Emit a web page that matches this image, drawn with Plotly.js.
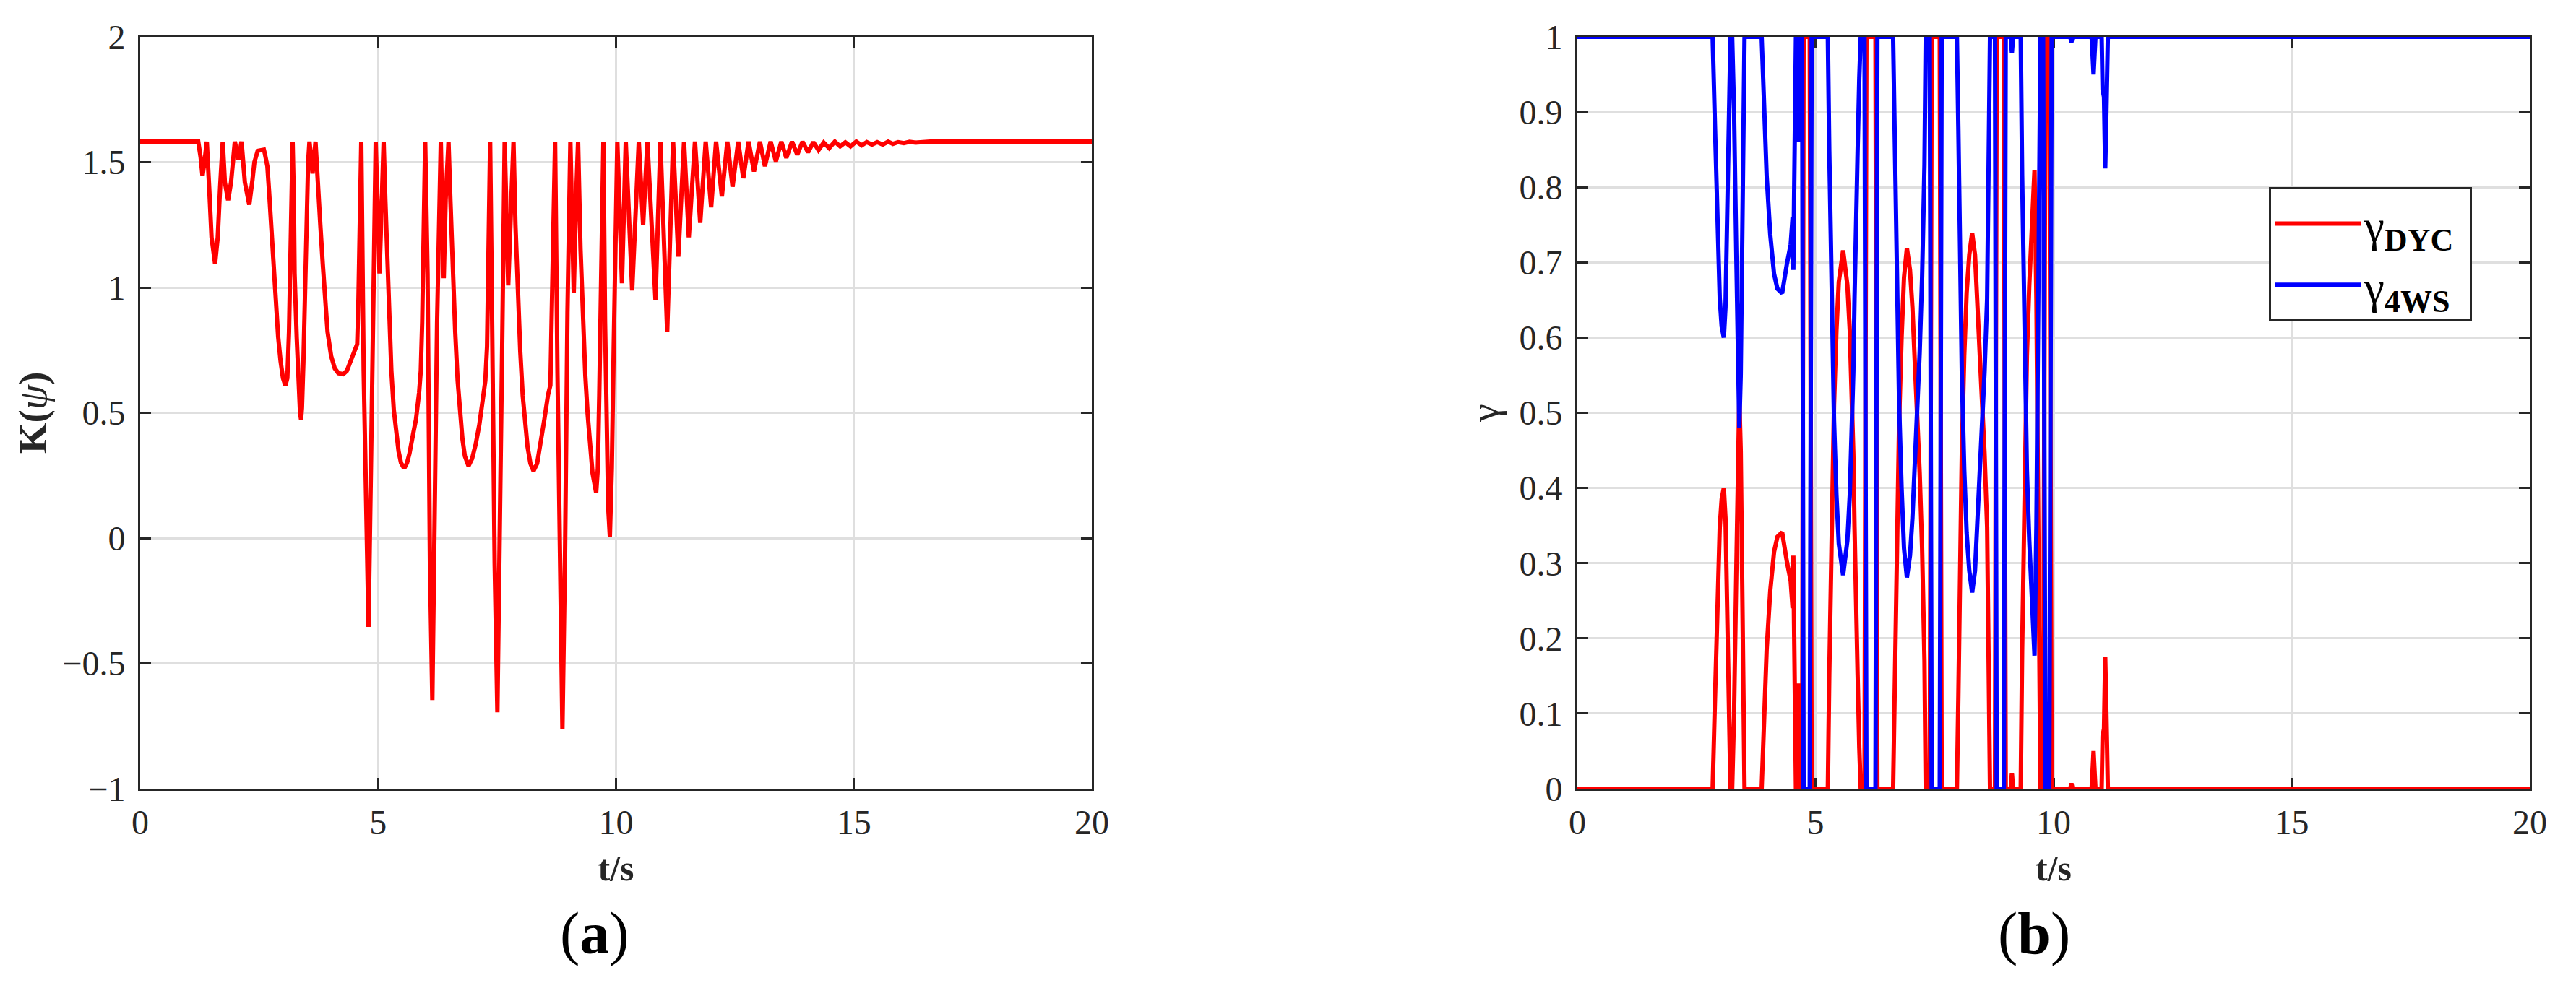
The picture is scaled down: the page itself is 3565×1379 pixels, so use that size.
<!DOCTYPE html>
<html>
<head>
<meta charset="utf-8">
<script src="https://cdn.plot.ly/plotly-3.0.1.min.js"></script>
<style>html,body{margin:0;padding:0;background:#fff;}#chart{width:3565px;height:1379px;}</style>
</head>
<body>
<div id="chart"></div>
<script>
// ---------- Data (a): K(psi) vs time ----------
const tK = [0, 1.22, 1.27, 1.31, 1.35, 1.40, 1.45, 1.50, 1.574, 1.63, 1.68, 1.735, 1.78, 1.848, 1.91, 1.99, 2.065, 2.13, 2.20, 2.293,
  2.36, 2.40, 2.47, 2.60, 2.622, 2.673, 2.708, 2.748, 2.799, 2.85, 2.90, 2.951, 3.001, 3.052, 3.093, 3.128, 3.154, 3.179, 3.204, 3.23,
  3.245, 3.29, 3.33, 3.36, 3.381, 3.40, 3.43, 3.457, 3.49, 3.53, 3.558, 3.624, 3.685, 3.735, 3.786, 3.837, 3.887, 3.938, 4.014, 4.09,
  4.166, 4.267, 4.343, 4.419, 4.495, 4.561, 4.586, 4.606, 4.647, 4.697, 4.748, 4.799, 4.85, 4.874, 4.925, 4.95, 5.03, 5.08, 5.117, 5.153,
  5.204, 5.239, 5.279, 5.33, 5.381, 5.431, 5.482, 5.548, 5.608, 5.659, 5.735, 5.796, 5.862, 5.897, 5.927, 5.963, 5.99, 6.04, 6.09, 6.14,
  6.19, 6.24, 6.318, 6.38, 6.42, 6.48, 6.52, 6.571, 6.621, 6.672, 6.723, 6.773, 6.824, 6.90, 6.976, 7.052, 7.128, 7.204, 7.254, 7.29,
  7.32, 7.355, 7.40, 7.45, 7.507, 7.56, 7.61, 7.66, 7.735, 7.80, 7.846, 7.887, 7.938, 7.988, 8.039, 8.09, 8.14, 8.201, 8.267, 8.343,
  8.419, 8.494, 8.57, 8.621, 8.646, 8.672, 8.72, 8.77, 8.82, 8.874, 8.93, 8.98, 9.041, 9.112, 9.16, 9.203, 9.254, 9.304, 9.355, 9.405,
  9.456, 9.507, 9.583, 9.618, 9.648, 9.669, 9.70, 9.735, 9.77, 9.80, 9.836, 9.871, 9.912, 9.952, 9.988, 10.028, 10.125, 10.205, 10.34, 10.479,
  10.57, 10.66, 10.83, 10.934, 11.076, 11.20, 11.31, 11.43, 11.53, 11.66, 11.77, 11.885, 12.0, 12.103, 12.225, 12.34, 12.45, 12.569, 12.675, 12.787,
  12.90, 13.025, 13.13, 13.25, 13.36, 13.475, 13.58, 13.70, 13.81, 13.92, 14.037, 14.148, 14.255, 14.366, 14.48, 14.60, 14.71, 14.82, 14.93, 15.05,
  15.165, 15.27, 15.38, 15.49, 15.605, 15.72, 15.82, 15.93, 16.05, 16.17, 16.30, 16.60, 20];
const kPsi = [1.582, 1.582, 1.52, 1.445, 1.50, 1.582, 1.40, 1.20, 1.095, 1.20, 1.40, 1.582, 1.42, 1.348, 1.42, 1.582, 1.51, 1.582, 1.42, 1.33,
  1.43, 1.50, 1.545, 1.55, 1.533, 1.484, 1.387, 1.25, 1.095, 0.94, 0.803, 0.706, 0.638, 0.609, 0.638, 0.823, 1.154, 1.446, 1.582, 1.348,
  1.056, 0.80, 0.60, 0.50, 0.473, 0.52, 0.70, 0.96, 1.25, 1.50, 1.582, 1.455, 1.582, 1.446, 1.25, 1.095, 0.94, 0.823, 0.726, 0.677,
  0.658, 0.654, 0.667, 0.706, 0.745, 0.774, 0.94, 1.25, 1.582, 0.667, 0.083, -0.354, 0.28, 0.667, 1.25, 1.582, 1.056, 1.35, 1.582, 1.348,
  1.056, 0.862, 0.667, 0.512, 0.414, 0.346, 0.30, 0.278, 0.30, 0.337, 0.414, 0.473, 0.58, 0.667, 0.862, 1.25, 1.582, 1.056, -0.11, -0.646,
  0.18, 0.86, 1.582, 1.037, 1.35, 1.582, 1.348, 1.056, 0.823, 0.628, 0.492, 0.395, 0.327, 0.288, 0.317, 0.375, 0.453, 0.55, 0.628, 0.765,
  1.154, 1.582, 0.80, -0.10, -0.695, -0.05, 0.80, 1.582, 1.008, 1.35, 1.582, 1.25, 0.96, 0.745, 0.57, 0.453, 0.366, 0.298, 0.268, 0.298,
  0.375, 0.473, 0.57, 0.61, 0.862, 1.154, 1.582, 0.66, -0.10, -0.763, -0.05, 0.90, 1.582, 0.979, 1.35, 1.582, 1.154, 0.862, 0.648, 0.492,
  0.356, 0.259, 0.181, 0.278, 0.57, 0.862, 1.25, 1.582, 0.862, 0.375, 0.122, 0.006, 0.278, 0.765, 1.25, 1.582, 1.017, 1.582, 0.988, 1.582,
  1.25, 1.582, 0.95, 1.582, 0.823, 1.582, 1.123, 1.582, 1.20, 1.582, 1.258, 1.582, 1.32, 1.582, 1.363, 1.582, 1.402, 1.582, 1.436, 1.582,
  1.4625, 1.582, 1.484, 1.582, 1.503, 1.582, 1.517, 1.582, 1.53, 1.582, 1.539, 1.58, 1.548, 1.578, 1.556, 1.582, 1.563, 1.579, 1.563, 1.582,
  1.567, 1.58, 1.57, 1.58, 1.57, 1.582, 1.573, 1.58, 1.576, 1.581, 1.578, 1.582, 1.582];

// ---------- Data (b): gamma weights vs time ----------
const tG = [0, 2.84, 2.89, 2.94, 2.99, 3.03, 3.075, 3.11, 3.14, 3.19, 3.215, 3.25, 3.29, 3.34, 3.37, 3.40, 3.43, 3.445, 3.47, 3.49,
  3.51, 3.87, 3.925, 3.975, 4.05, 4.13, 4.20, 4.30, 4.40, 4.48, 4.52, 4.535, 4.55, 4.57, 4.59, 4.63, 4.655, 4.68, 4.72, 4.75,
  4.88, 4.92, 5.26, 5.29, 5.315, 5.34, 5.365, 5.39, 5.44, 5.49, 5.58, 5.67, 5.72, 5.77, 5.795, 5.82, 5.845, 5.885, 5.92, 5.95,
  6.03, 6.07, 6.26, 6.30, 6.63, 6.656, 6.682, 6.707, 6.732, 6.757, 6.808, 6.859, 6.92, 6.985, 7.036, 7.087, 7.138, 7.188, 7.239, 7.289,
  7.315, 7.40, 7.44, 7.61, 7.65, 7.97, 8.0, 8.023, 8.073, 8.124, 8.175, 8.23, 8.29, 8.35, 8.38, 8.43, 8.48, 8.55, 8.605, 8.63,
  8.665, 8.77, 8.805, 8.955, 8.995, 9.10, 9.125, 9.15, 9.31, 9.34, 9.39, 9.44, 9.49, 9.54, 9.60, 9.64, 9.68, 9.705, 9.725, 9.78,
  9.83, 9.91, 9.96, 10.35, 10.375, 10.40, 10.80, 10.84, 10.88, 11.01, 11.03, 11.06, 11.085, 11.11, 11.14, 20];
const gammaDYC = [0, 0, 0.12, 0.25, 0.348, 0.385, 0.40, 0.36, 0.25, 0.055, 0, 0, 0.10, 0.30, 0.42, 0.52, 0.45, 0.35, 0.20, 0.05,
  0, 0, 0.087, 0.185, 0.263, 0.315, 0.335, 0.341, 0.302, 0.276, 0.24, 0.31, 0.22, 0.12, 0, 0, 0.14, 0, 0, 1,
  1, 0, 0, 0.152, 0.25, 0.348, 0.446, 0.511, 0.609, 0.674, 0.716, 0.67, 0.61, 0.51, 0.446, 0.348, 0.25, 0.152, 0.055, 0,
  0, 1, 1, 0, 0, 0.10, 0.20, 0.30, 0.40, 0.49, 0.60, 0.68, 0.719, 0.69, 0.64, 0.57, 0.50, 0.42, 0.32, 0.17,
  0, 0, 1, 1, 0, 0, 0.12, 0.25, 0.446, 0.576, 0.66, 0.71, 0.739, 0.71, 0.674, 0.595, 0.543, 0.446, 0.348, 0.22,
  0, 0, 1, 1, 0, 0, 0.021, 0, 0, 0.185, 0.38, 0.576, 0.67, 0.73, 0.823, 0.65, 0.40, 0.15, 0, 0,
  1, 1, 0, 0, 0.007, 0, 0, 0.05, 0, 0, 0.07, 0.08, 0.175, 0.10, 0, 0];
const gamma4WS = [1, 1, 0.88, 0.75, 0.652, 0.615, 0.60, 0.64, 0.75, 0.945, 1, 1, 0.90, 0.70, 0.58, 0.48, 0.55, 0.65, 0.80, 0.95,
  1, 1, 0.913, 0.815, 0.737, 0.685, 0.665, 0.659, 0.698, 0.724, 0.76, 0.69, 0.78, 0.88, 1, 1, 0.86, 1, 1, 0,
  0, 1, 1, 0.848, 0.75, 0.652, 0.554, 0.489, 0.391, 0.326, 0.284, 0.33, 0.39, 0.49, 0.554, 0.652, 0.75, 0.848, 0.945, 1,
  1, 0, 0, 1, 1, 0.90, 0.80, 0.70, 0.60, 0.51, 0.40, 0.32, 0.281, 0.31, 0.36, 0.43, 0.50, 0.58, 0.68, 0.83,
  1, 1, 0, 0, 1, 1, 0.88, 0.75, 0.554, 0.424, 0.34, 0.29, 0.261, 0.29, 0.326, 0.405, 0.457, 0.554, 0.652, 0.78,
  1, 1, 0, 0, 1, 1, 0.979, 1, 1, 0.815, 0.62, 0.424, 0.33, 0.27, 0.177, 0.35, 0.60, 0.85, 1, 1,
  0, 0, 1, 1, 0.993, 1, 1, 0.95, 1, 1, 0.93, 0.92, 0.825, 0.90, 1, 1];

// ---------- Labels ----------
const xTitle = '<b>t/s</b>';
const yTitleA = '<b>K(</b><i>ψ</i><b>)</b>';
const yTitleB = 'γ';
const legendNames = ['γ<sub><b>DYC</b></sub>\u00A0', 'γ<sub><b>4WS</b></sub>\u00A0'];
const panelLabels = ['(<b>a</b>)', '(<b>b</b>)'];

// ---------- Layout geometry ----------
const W = 3565, H = 1379;
const FONT = 'Liberation Serif, Times New Roman, serif';
const AX = '#262626';

function axisBase(extra) {
  return Object.assign({
    showline: true, linecolor: AX, linewidth: 3, mirror: 'ticks',
    ticks: 'inside', ticklen: 15, tickwidth: 3, tickcolor: AX,
    showgrid: true, gridcolor: '#dfdfdf', gridwidth: 3, zeroline: false,
    layer: 'below traces',
    tickfont: {family: FONT, size: 48, color: AX},
    fixedrange: true
  }, extra);
}

const yDom = [(H - 1092) / H, (H - 51) / H];

const traces = [
  {x: tK, y: kPsi, type: 'scatter', mode: 'lines', xaxis: 'x', yaxis: 'y',
   line: {color: '#ff0000', width: 6}, showlegend: false, hoverinfo: 'skip'},
  {x: tG, y: gammaDYC, type: 'scatter', mode: 'lines', xaxis: 'x2', yaxis: 'y2',
   name: legendNames[0], line: {color: '#ff0000', width: 6}, hoverinfo: 'skip'},
  {x: tG, y: gamma4WS, type: 'scatter', mode: 'lines', xaxis: 'x2', yaxis: 'y2',
   name: legendNames[1], line: {color: '#0000ff', width: 6}, hoverinfo: 'skip'}
];

const layout = {
  width: W, height: H,
  margin: {l: 0, r: 0, t: 0, b: 0},
  paper_bgcolor: '#ffffff', plot_bgcolor: '#ffffff',
  showlegend: true,
  xaxis: axisBase({domain: [194 / W, 1511 / W], anchor: 'y', range: [0, 20], dtick: 5, tick0: 0,
    ticklabelstandoff: 2,
    title: {text: xTitle, font: {family: FONT, size: 50, color: AX}, standoff: 21}}),
  yaxis: axisBase({domain: yDom, anchor: 'x', range: [-1, 2], dtick: 0.5, tick0: 0,
    ticklabelstandoff: 8,
    title: {text: yTitleA, font: {family: FONT, size: 55, color: AX}, standoff: 5}}),
  xaxis2: axisBase({domain: [2183 / W, 3501 / W], anchor: 'y2', range: [0, 20], dtick: 5, tick0: 0,
    ticklabelstandoff: 2,
    title: {text: xTitle, font: {family: FONT, size: 50, color: AX}, standoff: 21}}),
  yaxis2: axisBase({domain: yDom, anchor: 'x2', range: [0, 1], dtick: 0.1, tick0: 0,
    ticklabelstandoff: 8,
    title: {text: yTitleB, font: {family: FONT, size: 56, color: AX}, standoff: 10}}),
  legend: {
    x: 3140 / W, y: 1 - 259 / H, xanchor: 'left', yanchor: 'top',
    bgcolor: '#ffffff', bordercolor: AX, borderwidth: 3,
    font: {family: FONT, size: 63, color: '#000000'},
    itemwidth: 119, tracegroupgap: 0
  },
  annotations: [
    {text: panelLabels[0], xref: 'paper', yref: 'paper', x: 823 / W, y: 1 - 1292 / H,
     xanchor: 'center', yanchor: 'middle', showarrow: false,
     font: {family: FONT, size: 82, color: '#000000'}},
    {text: panelLabels[1], xref: 'paper', yref: 'paper', x: 2815 / W, y: 1 - 1292 / H,
     xanchor: 'center', yanchor: 'middle', showarrow: false,
     font: {family: FONT, size: 82, color: '#000000'}}
  ]
};

Plotly.newPlot('chart', traces, layout, {staticPlot: true, displayModeBar: false});
</script>
</body>
</html>
